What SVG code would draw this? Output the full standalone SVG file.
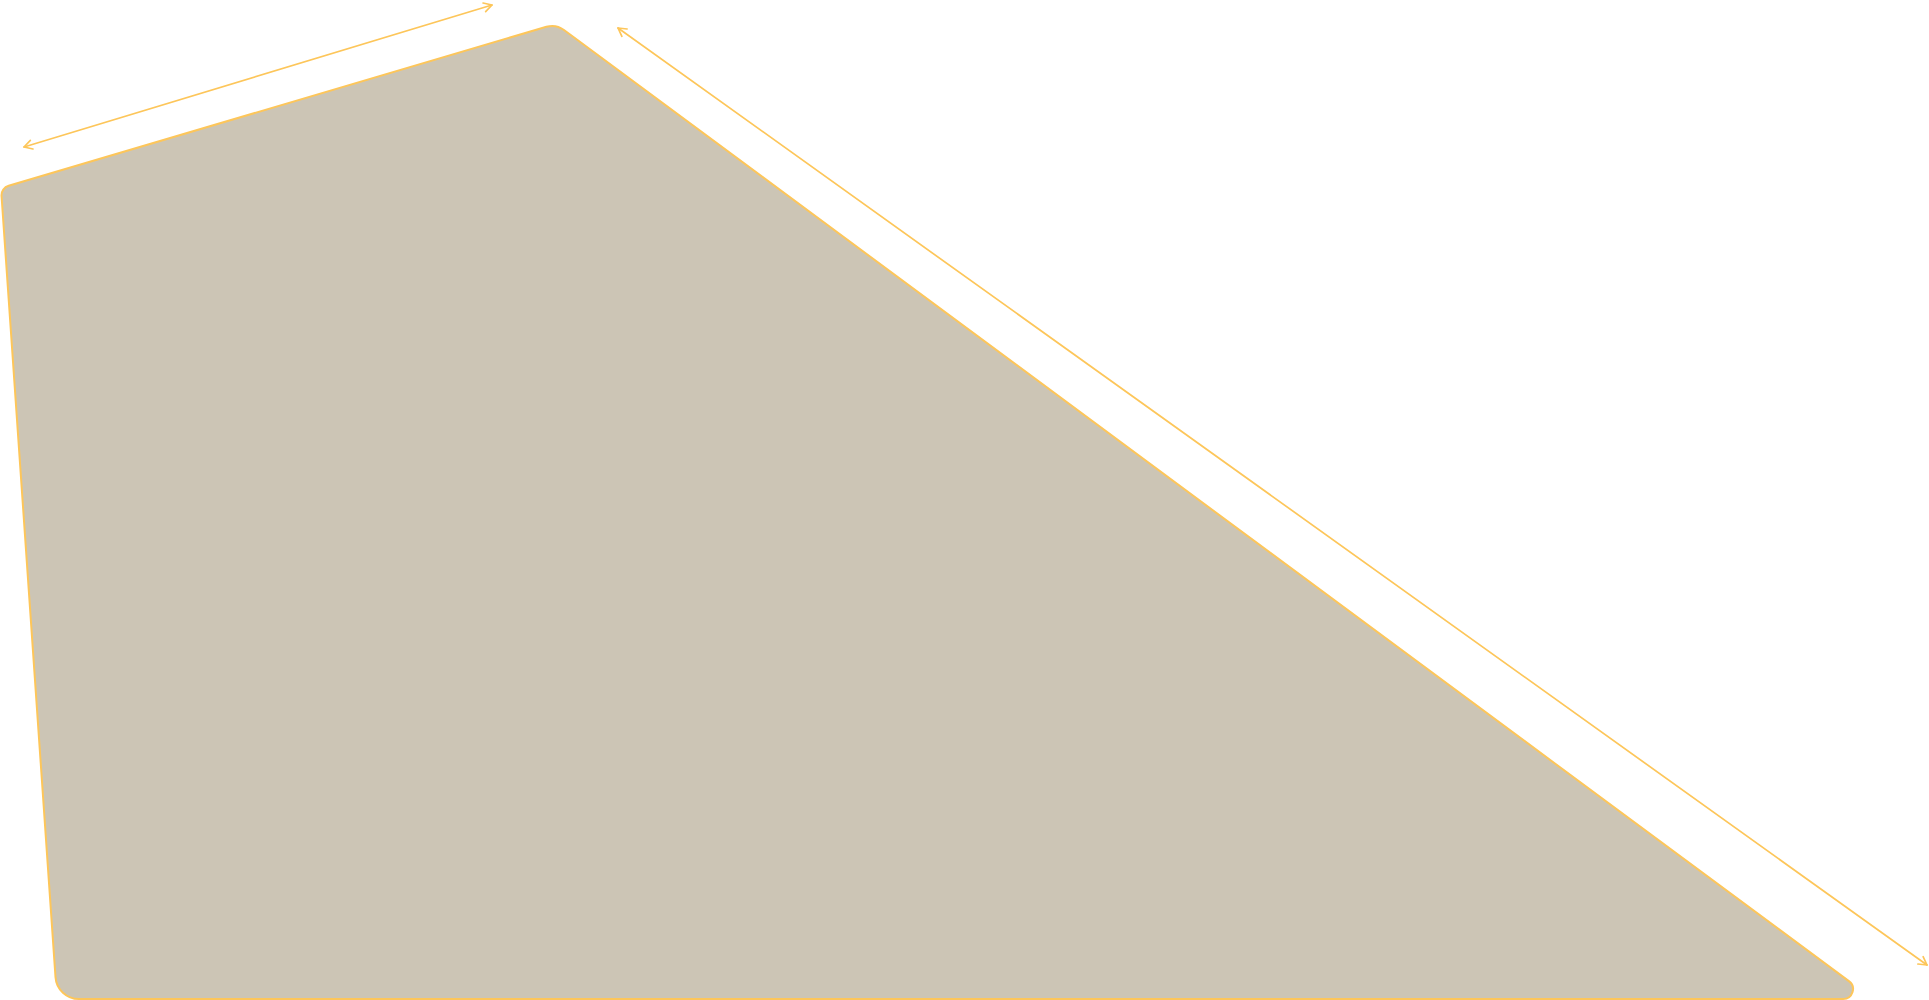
<svg xmlns="http://www.w3.org/2000/svg" width="1929" height="1000" viewBox="0 0 1929 1000">
  <defs>
    <style>
      .shape { fill: #CCC5B5; stroke: #FDC65A; stroke-width: 2; stroke-linejoin: round; }
      .dim { fill: none; stroke: #FDC65A; stroke-width: 1.7; stroke-linecap: round; }
      .head { fill: none; stroke: #FDC65A; stroke-width: 1.7; stroke-linecap: round; stroke-linejoin: round; }
    </style>
    <marker id="arr" viewBox="0 0 12 12" refX="10" refY="6" markerWidth="12" markerHeight="12" markerUnits="userSpaceOnUse" orient="auto-start-reverse">
      <path class="head" d="M2,1.5 L10,6 L2,10.5"/>
    </marker>
  </defs>
  <rect width="1929" height="1000" fill="#FFFFFF"/>
  <g id="plot">
    <path class="shape" d="M 546.4 26.8 L 8.67 185.73 A 10 10 0 0 0 1.55 196.0 L 55.5 977.1 A 23.5 23.5 0 0 0 79 999 L 1843 999 A 9.9 9.9 0 0 0 1848.9 981.1 L 564.0 30.0 A 20 20 0 0 0 546.4 26.8 Z"/>
  </g>
  <g id="connectors">
    <line class="dim" x1="24" y1="147" x2="492" y2="5" marker-start="url(#arr)" marker-end="url(#arr)"/>
    <line class="dim" x1="618" y1="28" x2="1927" y2="965" marker-start="url(#arr)" marker-end="url(#arr)"/>
  </g>
</svg>
